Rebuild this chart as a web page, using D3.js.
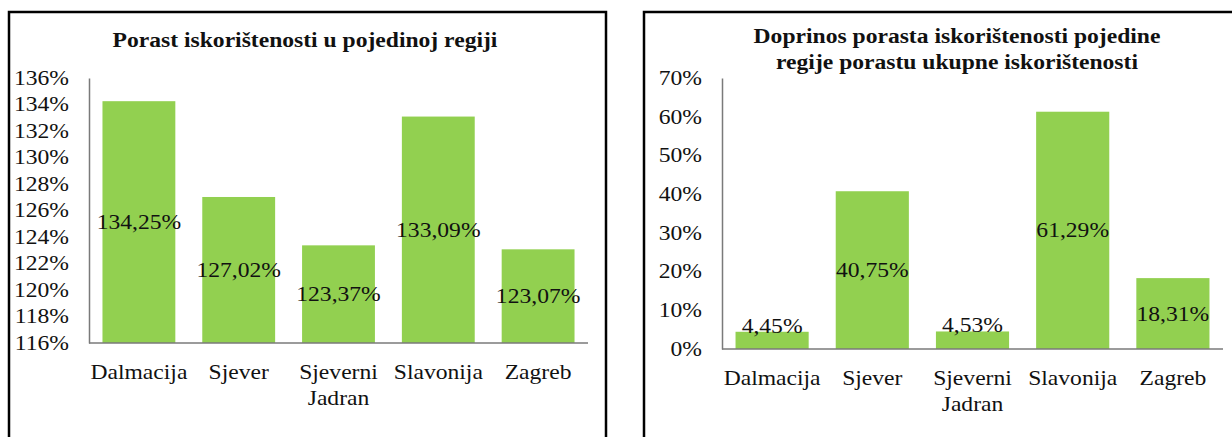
<!DOCTYPE html>
<html>
<head>
<meta charset="utf-8">
<script src="https://cdn.jsdelivr.net/npm/d3@7"></script>
<style>
  body { margin: 0; background: #fff; }
  svg text { font-family: "Liberation Serif", "Times New Roman", "DejaVu Serif", serif !important; fill: #111; }
</style>
</head>
<body>
<div id="chart"></div>
<script>
const categories = ["Dalmacija", "Sjever", "Sjeverni\nJadran", "Slavonija", "Zagreb"];
const growthValues = [134.25, 127.02, 123.37, 133.09, 123.07];
const growthTicks = [116, 118, 120, 122, 124, 126, 128, 130, 132, 134, 136];
const shareValues = [4.45, 40.75, 4.53, 61.29, 18.31];
const shareTicks = [0, 10, 20, 30, 40, 50, 60, 70];

const svgWidth = 1232;
const svgHeight = 437;
const sx = 1.18; // the source picture is stretched horizontally

const svg = d3.select("#chart")
  .append("svg")
  .attr("width", svgWidth)
  .attr("height", svgHeight)
  .attr("font-family", "Liberation Serif, serif");

const fmt = v => d3.format(".2f")(v).replace(".", ",") + "%";

function drawPanel(opts) {
  // frame
  svg.append("rect")
    .attr("x", opts.frame[0])
    .attr("y", 12)
    .attr("width", opts.frame[1] - opts.frame[0])
    .attr("height", 460)
    .attr("fill", "none")
    .attr("stroke", "#000")
    .attr("stroke-width", 2.5);

  // title
  opts.title.forEach((line, i) => {
    svg.append("text")
      .attr("transform", `translate(${opts.titleX}, ${opts.titleY + i * 26}) scale(${sx},1)`)
      .attr("text-anchor", "middle")
      .attr("font-weight", "bold")
      .attr("font-size", 20)
      .text(line);
  });

  const x = d3.scaleBand()
    .domain(categories)
    .range(opts.xRange)
    .paddingInner(0.27)
    .paddingOuter(0.135);

  const y = d3.scaleLinear()
    .domain(opts.domain)
    .range(opts.yRange);

  const base = y(opts.domain[0]);
  const g = svg.append("g");

  g.selectAll("rect.bar")
    .data(opts.values)
    .enter()
    .append("rect")
    .attr("class", "bar")
    .attr("x", (d, i) => x(categories[i]))
    .attr("y", d => y(d))
    .attr("width", x.bandwidth())
    .attr("height", d => base - y(d))
    .attr("fill", "#92d050");

  // left axis
  const leftAxis = d3.axisLeft(y).tickValues(opts.ticks).tickSize(0).tickFormat(d => d + "%");
  const ya = g.append("g")
    .attr("transform", `translate(${opts.xRange[0]}, 0)`)
    .call(leftAxis);
  ya.attr("font-family", null);
  ya.select(".domain").attr("stroke", "#7a7a7a").attr("stroke-width", 1.5);
  ya.selectAll("text")
    .attr("x", 0)
    .attr("transform", `translate(-20,0) scale(${sx},1)`)
    .attr("font-size", 20)
    .attr("fill", "#222");

  // x axis line
  g.append("line")
    .attr("x1", opts.xRange[0])
    .attr("x2", opts.xRange[1])
    .attr("y1", base)
    .attr("y2", base)
    .attr("stroke", "#7a7a7a")
    .attr("stroke-width", 1.5);

  // category labels
  categories.forEach(c => {
    c.split("\n").forEach((line, j) => {
      g.append("text")
        .attr("transform", `translate(${x(c) + x.bandwidth() / 2}, ${base + 36 + j * 26}) scale(${sx},1)`)
        .attr("text-anchor", "middle")
        .attr("font-size", 20)
        .attr("fill", "#222")
        .text(line);
    });
  });

  // data labels: centred in the bar, above it when the bar is too short
  g.selectAll("text.val")
    .data(opts.values)
    .enter()
    .append("text")
    .attr("class", "val")
    .attr("transform", (d, i) => {
      const top = y(d);
      const cy = (base - top) > 36 ? (top + base) / 2 : top - 6;
      return `translate(${x(categories[i]) + x.bandwidth() / 2}, ${cy}) scale(${sx},1)`;
    })
    .attr("dy", "0.35em")
    .attr("text-anchor", "middle")
    .attr("font-size", 20)
    .text(d => fmt(d));
}

drawPanel({
  frame: [9, 606],
  title: ["Porast iskorištenosti u pojedinoj regiji"],
  titleX: 305,
  titleY: 47,
  values: growthValues,
  ticks: growthTicks,
  domain: [116, 136],
  xRange: [89, 588],
  yRange: [343, 78]
});

drawPanel({
  frame: [644, 1270],
  title: ["Doprinos porasta iskorištenosti pojedine", "regije porastu ukupne iskorištenosti"],
  titleX: 957,
  titleY: 43,
  values: shareValues,
  ticks: shareTicks,
  domain: [0, 70],
  xRange: [722, 1223],
  yRange: [349, 78]
});
</script>
</body>
</html>
